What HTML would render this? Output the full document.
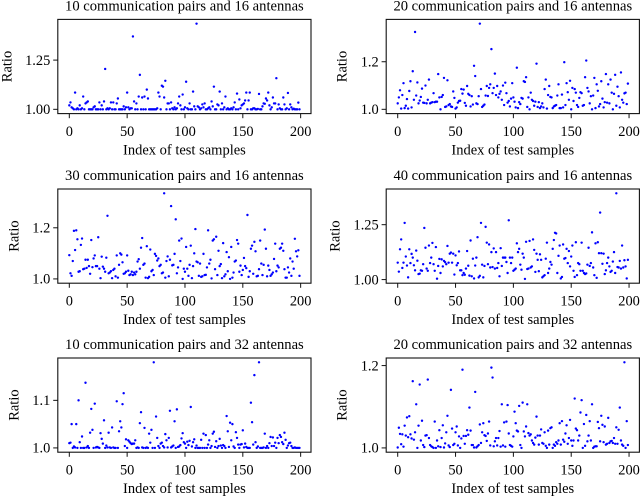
<!DOCTYPE html>
<html>
<head>
<meta charset="utf-8">
<title>Ratio of test samples</title>
<style>
html,body{margin:0;padding:0;background:#fff;}
svg{display:block;font-family:"Liberation Serif",serif;fill:#000;}
</style>
</head>
<body>
<svg id="chart" xmlns="http://www.w3.org/2000/svg" width="640" height="497" viewBox="0 0 640 497"></svg>
<script>
const xTicks = [0, 50, 100, 150, 200];
const xTickLabels = ["0", "50", "100", "150", "200"];
const xIndexMin = 0;
const xIndexMax = 199;

const titleA = "10 communication pairs and 16 antennas";
const titleB = "20 communication pairs and 16 antennas";
const titleC = "30 communication pairs and 16 antennas";
const titleD = "40 communication pairs and 16 antennas";
const titleE = "10 communication pairs and 32 antennas";
const titleF = "20 communication pairs and 32 antennas";

const yTicksA = [1.00, 1.25];
const yLabelsA = ["1.00", "1.25"];
const yTicksB = [1.0, 1.2];
const yLabelsB = ["1.0", "1.2"];
const yTicksC = [1.0, 1.2];
const yLabelsC = ["1.0", "1.2"];
const yTicksD = [1.00, 1.25];
const yLabelsD = ["1.00", "1.25"];
const yTicksE = [1.0, 1.1];
const yLabelsE = ["1.0", "1.1"];
const yTicksF = [1.0, 1.2];
const yLabelsF = ["1.0", "1.2"];

const valuesA = [
1.02,1.035,1.01,1.005,1.0,1.085,1.0,1.005,1.0,1.02,
1.0,1.005,1.065,1.0,1.03,1.035,1.04,1.0,1.0,1.0,
1.0,1.01,1.015,1.0,1.0,1.0,1.035,1.0,1.02,1.0,
1.04,1.205,1.0,1.005,1.0,1.005,1.035,1.0,1.035,1.0,
1.0,1.03,1.055,1.0,1.0,1.0,1.0,1.015,1.0,1.01,
1.085,1.01,1.0,1.005,1.005,1.37,1.04,1.0,1.03,1.0,
1.065,1.175,1.0,1.06,1.0,1.065,1.0,1.1,1.055,1.0,
1.0,1.0,1.0,1.0,1.0,1.0,1.005,1.085,1.065,1.0,
1.12,1.115,1.06,1.145,1.0,1.03,1.03,1.0,1.035,1.005,
1.0,1.01,1.0,1.005,1.03,1.065,1.02,1.0,1.075,1.0,
1.01,1.14,1.005,1.0,1.03,1.0,1.0,1.09,1.015,1.0,
1.435,1.015,1.01,1.0,1.005,1.025,1.01,1.03,1.0,1.0,
1.005,1.01,1.0,1.04,1.015,1.115,1.0,1.0,1.025,1.02,
1.09,1.0,1.03,1.0,1.01,1.065,1.0,1.005,1.0,1.0,
1.005,1.0,1.01,1.035,1.0,1.08,1.0,1.05,1.005,1.02,
1.025,1.03,1.045,1.085,1.0,1.045,1.085,1.0,1.0,1.005,
1.005,1.0,1.0,1.002,1.078,1.0,1.0,1.015,1.03,1.028,
1.055,1.045,1.085,1.02,1.0,1.01,1.06,1.03,1.03,1.158,
1.0,1.025,1.005,1.0,1.0,1.06,1.025,1.0,1.005,1.083,
1.0,1.025,1.01,1.0,1.003,1.0,1.0,1.0,1.034,1.0
];
const valuesB = [
1.025,1.05,1.08,1.003,1.06,1.11,1.005,1.015,1.043,1.003,
1.077,1.118,1.008,1.16,1.04,1.325,1.058,1.113,1.025,1.037,
1.052,1.087,1.028,1.027,1.1,1.025,1.04,1.125,1.025,1.028,
1.03,1.068,1.03,1.032,1.032,1.148,1.05,1.0,1.052,1.06,
1.132,1.01,1.012,1.122,1.018,1.022,1.012,1.01,1.075,1.048,
1.003,1.008,1.028,1.035,1.036,1.085,1.066,1.083,1.027,1.015,
1.098,1.065,1.06,1.012,1.055,1.02,1.183,1.14,1.025,1.022,
1.055,1.36,1.085,1.01,1.015,1.02,1.058,1.098,1.056,1.09,
1.105,1.253,1.068,1.09,1.15,1.06,1.098,1.05,1.065,1.075,
1.04,1.1,1.018,1.112,1.068,1.028,1.035,1.012,1.045,1.11,
1.05,1.032,1.008,1.175,1.005,1.03,1.022,1.048,1.045,1.118,
1.115,1.135,1.01,1.05,1.0,1.07,1.04,1.035,1.015,1.032,
1.192,1.01,1.03,1.005,1.012,1.025,1.008,1.085,1.125,1.003,
1.06,1.098,1.052,1.05,1.005,1.012,1.015,1.018,1.058,1.105,
1.005,1.005,1.062,1.008,1.198,1.018,1.11,1.072,1.04,1.12,
1.0,1.09,1.035,1.085,1.07,1.018,1.01,1.048,1.072,1.068,
1.015,1.018,1.135,1.205,1.09,1.075,1.025,1.055,1.0,1.058,
1.132,1.005,1.105,1.078,1.012,1.022,1.118,1.045,1.008,1.03,
1.148,1.028,1.105,1.025,1.125,1.07,1.0,1.065,1.145,1.015,
1.095,1.055,1.008,1.155,1.04,1.028,1.067,1.07,1.022,1.108
];
const valuesC = [
1.093,1.022,1.012,1.07,1.188,1.113,1.19,1.155,1.028,1.03,
1.133,1.158,1.038,1.04,1.075,1.043,1.075,1.05,1.02,1.152,
1.046,1.08,1.092,1.05,1.05,1.163,1.04,1.003,1.087,1.048,
1.04,1.028,1.083,1.247,1.022,1.025,1.03,1.003,1.035,1.04,
1.01,1.092,1.005,1.055,1.1,1.095,1.065,1.02,1.022,1.028,
1.092,1.032,1.015,1.018,1.028,1.015,1.025,1.018,1.028,1.068,
1.077,1.04,1.122,1.16,1.055,1.06,1.005,1.128,1.003,1.008,
1.115,1.03,1.035,1.015,1.098,1.09,1.072,1.08,1.05,1.055,
1.022,1.025,1.335,1.005,1.07,1.088,1.01,1.075,1.285,1.053,
1.055,1.098,1.233,1.022,1.045,1.15,1.07,1.158,1.0,1.04,
1.028,1.125,1.04,1.012,1.055,1.13,1.003,1.05,1.1,1.195,
1.068,1.065,1.012,1.06,1.008,1.01,1.098,1.015,1.016,1.045,
1.19,1.06,1.075,1.002,1.15,1.155,1.038,1.165,1.015,1.11,
1.05,1.058,1.003,1.14,1.01,1.018,1.105,1.03,1.085,1.0,
1.125,1.005,1.025,1.068,1.072,1.152,1.138,1.028,1.052,1.015,
1.035,1.082,1.05,1.042,1.25,1.008,1.03,1.118,1.13,1.02,
1.145,1.108,1.01,1.012,1.038,1.15,1.06,1.015,1.055,1.193,
1.118,1.01,1.052,1.035,1.012,1.018,1.025,1.078,1.138,1.03,
1.052,1.045,1.118,1.122,1.138,1.11,1.038,1.005,1.005,1.045,
1.025,1.08,1.012,1.068,1.04,1.157,1.108,1.088,1.112,1.012
];
const valuesD = [
1.077,1.036,1.138,1.183,1.053,1.077,1.258,1.105,1.064,1.01,
1.138,1.075,1.117,1.1,1.065,1.042,1.132,1.086,1.025,1.027,
1.042,1.04,1.07,1.235,1.145,1.05,1.04,1.155,1.075,1.1,
1.167,1.07,1.04,1.148,1.004,1.062,1.094,1.03,1.092,1.06,
1.085,1.079,1.07,1.153,1.077,1.118,1.123,1.077,1.118,1.023,
1.11,1.065,1.075,1.128,1.042,1.042,1.02,1.03,1.022,1.05,
1.13,1.063,1.018,1.178,1.015,1.095,1.005,1.064,1.1,1.193,
1.01,1.017,1.258,1.068,1.01,1.062,1.24,1.168,1.07,1.16,
1.055,1.125,1.057,1.142,1.05,1.125,1.053,1.075,1.015,1.143,
1.062,1.1,1.1,1.1,1.08,1.03,1.27,1.1,1.075,1.1,
1.04,1.045,1.05,1.165,1.125,1.14,1.068,1.045,1.118,1.1,
1.003,1.172,1.048,1.05,1.176,1.055,1.06,1.183,1.135,1.035,
1.118,1.09,1.038,1.115,1.09,1.01,1.015,1.02,1.095,1.168,
1.03,1.05,1.08,1.068,1.14,1.18,1.213,1.21,1.03,1.108,
1.155,1.005,1.012,1.16,1.095,1.098,1.14,1.075,1.13,1.06,
1.105,1.155,1.04,1.012,1.17,1.02,1.075,1.07,1.04,1.168,
1.04,1.03,1.025,1.028,1.068,1.145,1.062,1.075,1.215,1.055,
1.02,1.165,1.008,1.17,1.12,1.305,1.12,1.072,1.118,1.025,
1.042,1.075,1.1,1.06,1.035,1.04,1.082,1.125,1.03,1.393,
1.057,1.055,1.085,1.05,1.155,1.055,1.088,1.06,1.005,1.09
];
const valuesE = [
1.01,1.011,1.05,1.0,1.003,1.001,1.05,1.0,1.1,1.012,
1.0,1.024,1.0,1.0,1.137,1.001,1.004,1.0,1.032,1.082,
1.038,1.0,1.093,1.001,1.002,1.001,1.0,1.031,1.019,1.009,
1.058,1.0,1.005,1.001,1.032,1.001,1.0,1.043,1.001,1.0,
1.0,1.098,1.0,1.035,1.056,1.043,1.092,1.115,1.004,1.018,
1.0,1.016,1.013,1.01,1.008,1.009,1.009,1.016,1.0,1.001,
1.0,1.052,1.075,1.001,1.0,1.042,1.0,1.001,1.0,1.03,
1.011,1.038,1.0,1.18,1.0,1.066,1.021,1.004,1.0,1.009,
1.011,1.004,1.001,1.029,1.016,1.001,1.021,1.078,1.001,1.003,
1.005,1.056,1.0,1.081,1.002,1.003,1.006,1.02,1.031,1.012,
1.009,1.0,1.013,1.006,1.015,1.086,1.003,1.012,1.018,1.0,
1.005,1.0,1.0,1.0,1.017,1.0,1.03,1.0,1.027,1.0,
1.007,1.016,1.0,1.004,1.03,1.034,1.002,1.014,1.0,1.004,
1.019,1.005,1.0,1.006,1.004,1.0,1.067,1.035,1.002,1.053,
1.016,1.05,1.003,1.0,1.033,1.021,1.007,1.0,1.007,1.008,
1.037,1.001,1.009,1.002,1.0,1.0,1.0,1.095,1.054,1.007,
1.153,1.012,1.0,1.003,1.18,1.0,1.0,1.0,1.001,1.03,
1.0,1.004,1.0,1.01,1.023,1.004,1.022,1.004,1.011,1.0,
1.021,1.01,1.027,1.023,1.012,1.008,1.032,1.017,1.0,1.005,
1.01,1.011,1.004,1.0,1.0,1.001,1.0,1.0,1.0,1.0
];
const valuesF = [
1.001,1.049,1.034,1.009,1.033,1.003,1.054,1.03,1.074,1.026,
1.077,1.033,1.023,1.162,1.02,1.038,1.106,1.0,1.054,1.154,
1.018,1.066,1.007,1.002,1.03,1.031,1.166,1.024,1.007,1.004,
1.002,1.0,1.064,1.0,1.018,1.004,1.043,1.002,1.024,1.055,
1.001,1.011,1.038,1.078,1.006,1.002,1.141,1.047,1.007,1.01,
1.038,1.052,1.006,1.028,1.0,1.023,1.19,1.029,1.01,1.029,
1.043,1.032,1.098,1.042,1.007,1.007,1.001,1.136,1.001,1.004,
1.007,1.057,1.012,1.038,1.06,1.031,1.029,1.017,1.035,1.064,
1.006,1.195,1.171,1.004,1.016,1.024,1.006,1.024,1.041,1.003,
1.106,1.006,1.062,1.003,1.064,1.104,1.035,1.007,1.005,1.003,
1.028,1.088,1.06,1.042,1.04,1.102,1.007,1.0,1.11,1.04,
1.028,1.052,1.106,1.036,1.03,1.033,1.018,1.012,1.008,1.025,
1.076,1.03,1.008,1.03,1.045,1.012,1.01,1.038,1.005,1.0,
1.042,1.008,1.048,1.05,1.0,1.008,1.005,1.014,1.01,1.018,
1.06,1.008,1.065,1.02,1.015,1.035,1.055,1.01,1.024,1.068,
1.018,1.005,1.018,1.12,1.047,1.043,1.018,1.03,1.086,1.116,
1.0,1.058,1.005,1.08,1.016,1.03,1.065,1.018,1.106,1.0,
1.003,1.004,1.004,1.063,1.048,1.016,1.078,1.056,1.014,1.052,
1.008,1.01,1.073,1.012,1.016,1.017,1.012,1.024,1.01,1.05,
1.01,1.044,1.098,1.018,1.008,1.005,1.208,1.0,1.065,1.007
];

const SVG_NS = "http://www.w3.org/2000/svg";
const root = document.getElementById("chart");

function make(parent, tag, props) {
  const node = document.createElementNS(SVG_NS, tag);
  for (const key in props) node.setAttribute(key, props[key]);
  parent.appendChild(node);
  return node;
}

function axisX(left, width) {
  const lo = xIndexMin - 0.05 * (xIndexMax - xIndexMin);
  const hi = xIndexMax + 0.05 * (xIndexMax - xIndexMin);
  return function (v) { return left + (v - lo) / (hi - lo) * width; };
}

function axisY(top, height, values) {
  const minV = Math.min.apply(null, values);
  const maxV = Math.max.apply(null, values);
  const pad = 0.05 * (maxV - minV);
  const lo = minV - pad;
  const hi = maxV + pad;
  return function (v) { return top + height - (v - lo) / (hi - lo) * height; };
}

function drawPanel(key, title, values, yTicks, yLabels, left, top, ratioX) {
  const width = 253.2;
  const height = 94.2;
  const bottom = top + height;
  const x = axisX(left, width);
  const y = axisY(top, height, values);

  const group = make(root, "g", {});
  
  

  values.forEach(function (v, i) {
    const dot = make(group, "circle", { cx: x(i), cy: y(v), r: 1.2, fill: "#0000ff" });
    
    
  });

  const frame = make(group, "rect", { x: left, y: top, width: width, height: height, fill: "none", stroke: "#111", "stroke-width": 1.1 });
  
  

  const titleText = make(group, "text", { x: left + width / 2, y: top - 9, "text-anchor": "middle", "font-size": 14.6 });
  titleText.textContent = title;
  
  

  xTicks.forEach(function (t, i) {
    const tick = make(group, "line", { x1: x(t), x2: x(t), y1: bottom, y2: bottom + 4.6, stroke: "#111", "stroke-width": 1 });
    
    
    const label = make(group, "text", { x: x(t), y: bottom + 22.5, "text-anchor": "middle", "font-size": 14.4 });
    label.textContent = xTickLabels[i];
    
    
  });

  yTicks.forEach(function (t, i) {
    const tick = make(group, "line", { x1: left - 4.6, x2: left, y1: y(t), y2: y(t), stroke: "#111", "stroke-width": 1 });
    
    
    const label = make(group, "text", { x: left - 7.5, y: y(t) + 4.8, "text-anchor": "end", "font-size": 14.4 });
    label.textContent = yLabels[i];
    
    
  });

  const xTitle = make(group, "text", { x: left + width / 2, y: bottom + 41, "text-anchor": "middle", "font-size": 14.5 });
  xTitle.textContent = "Index of test samples";
  
  

  const yTitle = make(group, "text", { x: 0, y: 0, "text-anchor": "middle", "font-size": 14.5, transform: "translate(" + ratioX + "," + (top + height / 2) + ") rotate(-90)" });
  yTitle.textContent = "Ratio";
  
  
}

drawPanel("a", titleA, valuesA, yTicksA, yLabelsA, 57.8, 19.4, 11.5);
drawPanel("b", titleB, valuesB, yTicksB, yLabelsB, 386.2, 19.4, 346.5);
drawPanel("c", titleC, valuesC, yTicksC, yLabelsC, 57.8, 189, 18.5);
drawPanel("d", titleD, valuesD, yTicksD, yLabelsD, 386.2, 189, 339.5);
drawPanel("e", titleE, valuesE, yTicksE, yLabelsE, 57.8, 358, 18.5);
drawPanel("f", titleF, valuesF, yTicksF, yLabelsF, 386.2, 358, 346.5);
</script>
</body>
</html>
